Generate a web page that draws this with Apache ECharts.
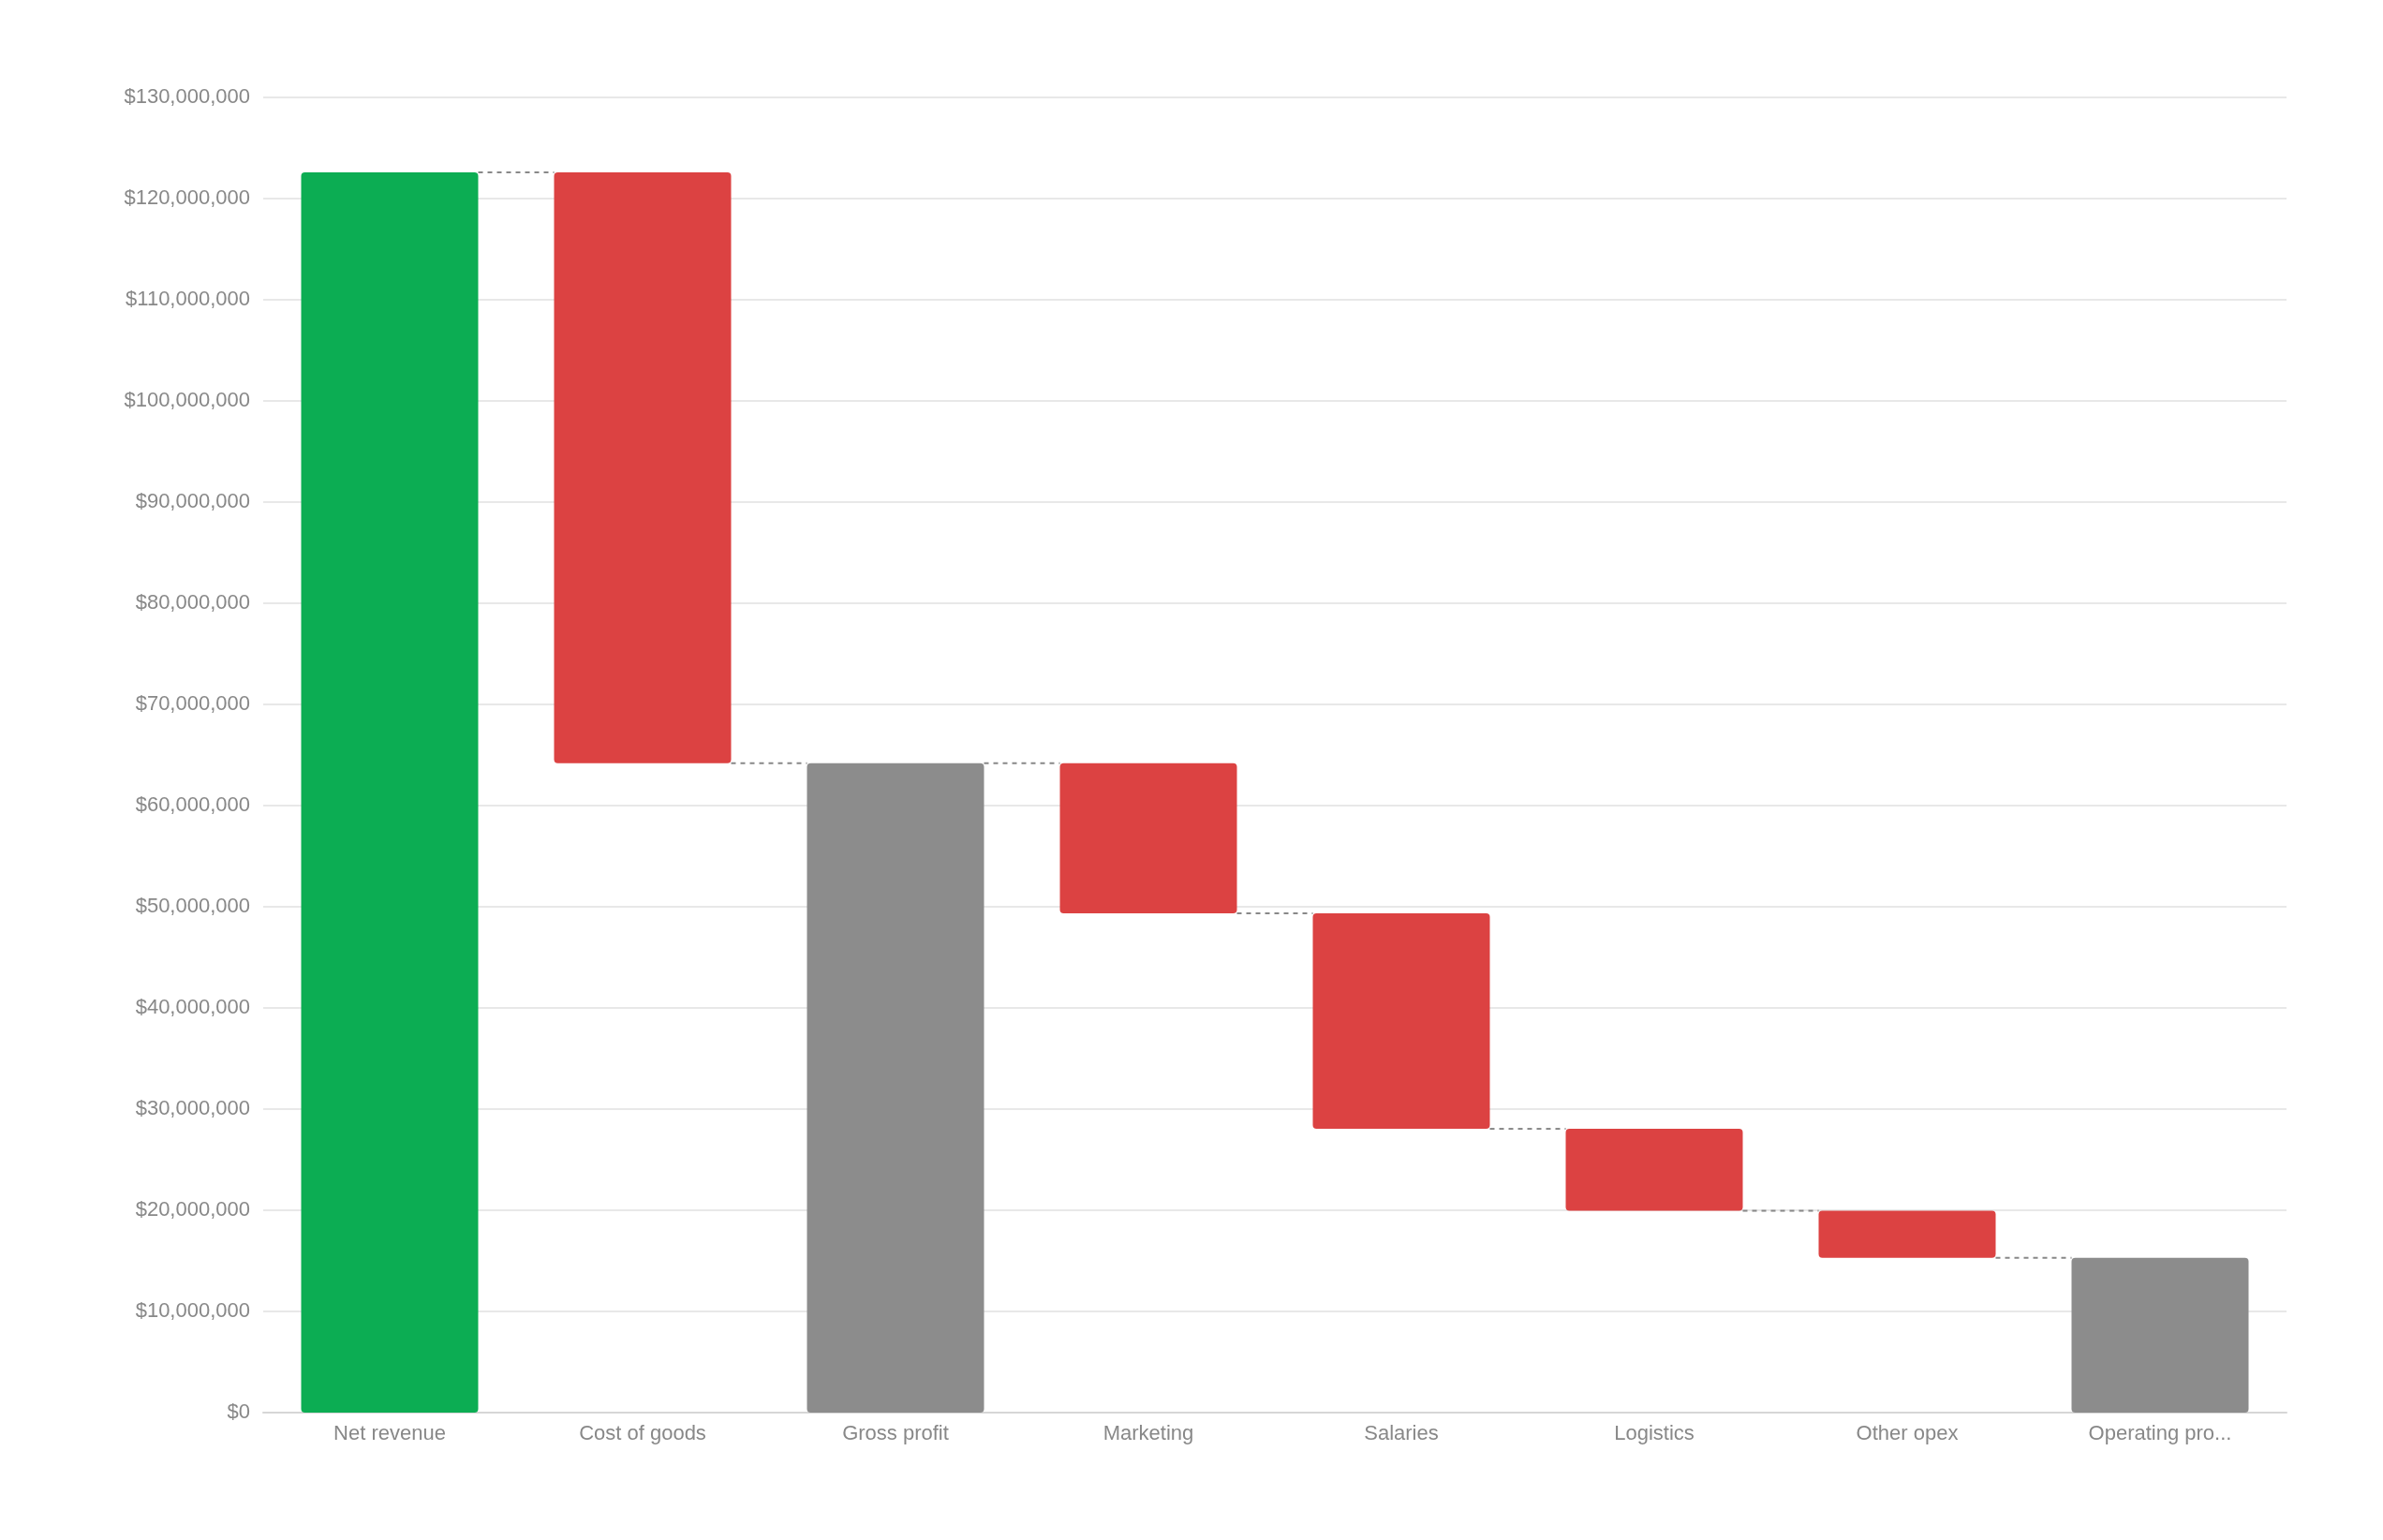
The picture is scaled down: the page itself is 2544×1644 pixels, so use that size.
<!DOCTYPE html>
<html>
<head>
<meta charset="utf-8">
<script src="https://cdn.jsdelivr.net/npm/echarts@6/dist/echarts.min.js"></script>
<style>
html,body{margin:0;padding:0;background:#fff;}
#chart{width:2544px;height:1644px;}
</style>
</head>
<body>
<div id="chart"></div>
<script>
const categories = ['Net revenue','Cost of goods','Gross profit','Marketing','Salaries','Logistics','Other opex','Operating profit'];
const amounts = [122600000, -58400000, 64200000, -14850000, -21300000, -8100000, -4650000, 15300000];
const kinds = ['total','delta','total','delta','delta','delta','delta','total'];
const yTicks = {min: 0, max: 130000000, interval: 10000000};

const GREEN = '#0CAD53', RED = '#DC4242', GRAY = '#8C8C8C';

// build waterfall pieces
const baseData = [], barData = [], levels = [];
let running = 0;
for (let i = 0; i < categories.length; i++) {
  const a = amounts[i];
  if (kinds[i] === 'total') {
    running = a;
    baseData.push(0);
    barData.push({value: a, itemStyle: {color: i === 0 ? GREEN : GRAY}});
  } else {
    const end = running + a;
    baseData.push(Math.min(running, end));
    barData.push({value: Math.abs(a), itemStyle: {color: a < 0 ? RED : GREEN}});
    running = end;
  }
  levels.push(running);
}
const connectorData = [];
for (let i = 0; i < categories.length - 1; i++) connectorData.push([i, levels[i]]);

function shortLabel(s) { return s.length > 14 ? s.slice(0, 13) + '...' : s; }

const chart = echarts.init(document.getElementById('chart'), null, {renderer: 'canvas'});
chart.setOption({
  animation: false,
  backgroundColor: '#ffffff',
  grid: {left: 281, right: 103, top: 104, bottom: 136, containLabel: false},
  xAxis: {
    type: 'category',
    data: categories,
    axisTick: {show: false},
    axisLine: {lineStyle: {color: '#d6d6d6', width: 2}},
    axisLabel: {
      color: '#888888', fontSize: 22, fontFamily: 'Liberation Sans, Arial, sans-serif',
      margin: 12, interval: 0, formatter: shortLabel
    }
  },
  yAxis: {
    type: 'value',
    min: yTicks.min, max: yTicks.max, interval: yTicks.interval,
    axisLine: {show: false},
    axisTick: {show: false},
    splitLine: {lineStyle: {color: '#e8e8e8', width: 2}},
    axisLabel: {
      color: '#888888', fontSize: 22, fontFamily: 'Liberation Sans, Arial, sans-serif', margin: 14,
      formatter: v => '$' + v.toLocaleString('en-US')
    }
  },
  series: [
    {
      type: 'bar', stack: 'wf', data: baseData, barWidth: '70%',
      itemStyle: {color: 'transparent'}, silent: true
    },
    {
      type: 'bar', stack: 'wf', data: barData, barWidth: '70%',
      itemStyle: {borderRadius: 4}
    },
    {
      type: 'custom', data: connectorData, z: 5,
      renderItem: function (params, api) {
        const i = api.value(0), lv = api.value(1);
        const p1 = api.coord([i, lv]);
        const p2 = api.coord([i + 1, lv]);
        const half = api.size([1, 0])[0] * 0.35;
        return {
          type: 'line',
          shape: {x1: p1[0] + half, y1: p1[1], x2: p2[0] - half, y2: p1[1]},
          style: {stroke: '#888888', lineWidth: 2, lineDash: [5, 5]}
        };
      }
    }
  ]
});
</script>
</body>
</html>
